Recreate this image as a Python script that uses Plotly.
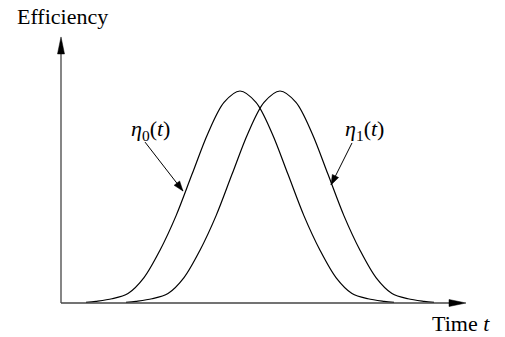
import math
import plotly.graph_objects as go

# curve samples (time units, efficiency 0..1 = peak)
t_eta0 = [2.5, 3.5, 5.1, 6.7, 8.3, 9.9, 11.5, 13.1, 14.7, 16.3, 17.9,
          19.5, 21.1, 22.7, 24.3, 25.9, 27.5, 29.1, 30.7, 32.3, 33.3]
eta0 = [0.003, 0.008, 0.02, 0.045, 0.12, 0.249, 0.411, 0.607, 0.801, 0.946, 1.0,
        0.946, 0.801, 0.607, 0.411, 0.249, 0.12, 0.045, 0.02, 0.008, 0.003]

t_eta1 = [6.5, 7.5, 9.1, 10.7, 12.3, 13.9, 15.5, 17.1, 18.7, 20.3, 21.9,
          23.5, 25.1, 26.7, 28.3, 29.9, 31.5, 33.1, 34.7, 36.3, 37.3]
eta1 = [0.003, 0.008, 0.02, 0.045, 0.12, 0.249, 0.411, 0.607, 0.801, 0.946, 1.0,
        0.946, 0.801, 0.607, 0.411, 0.249, 0.12, 0.045, 0.02, 0.008, 0.003]

# label arrows: (tail, tip) in data units
arrow_eta0 = ((8.4, 0.759), (12.2, 0.528))
arrow_eta1 = ((29.1, 0.755), (27.0, 0.557))

x_axis_end = 40.5
y_axis_end = 1.255

FONT = "Liberation Serif, Times New Roman, serif"
INK = "black"
AXIS = "#444"

# plot area geometry (page has an 8px body margin)
L, R, T, B = 43, 32, 19, 30
XR = [-1, 42]
YR = [-12 / 212, 276 / 212]
PX_X = (505 - L - R) / (XR[1] - XR[0])
PX_Y = (337 - T - B) / (YR[1] - YR[0])


def head(tail, tip, length=10, half=3.5):
    # triangle path in pixels around the tip (y up)
    dx = (tip[0] - tail[0]) * PX_X
    dy = (tip[1] - tail[1]) * PX_Y
    n = math.hypot(dx, dy)
    ux, uy = dx / n, dy / n
    bx, by = -ux * length, -uy * length
    px, py = -uy * half, ux * half
    path = f"M0,0 L{bx + px:.2f},{by + py:.2f} L{bx - px:.2f},{by - py:.2f} Z"
    return dict(type="path", xsizemode="pixel", ysizemode="pixel",
                xanchor=tip[0], yanchor=tip[1], path=path,
                fillcolor=INK, line=dict(color=INK, width=0.5))


fig = go.Figure()
for tt, ee in [(t_eta0, eta0), (t_eta1, eta1)]:
    fig.add_trace(go.Scatter(x=tt, y=ee, mode="lines",
                             line=dict(color=INK, width=1.2, shape="spline", smoothing=0.9),
                             hoverinfo="skip", showlegend=False))

shapes = [
    dict(type="line", x0=0, y0=0, x1=x_axis_end - 1.2, y1=0, line=dict(color=AXIS, width=1.3)),
    dict(type="line", x0=0, y0=0, x1=0, y1=y_axis_end - 0.06, line=dict(color=AXIS, width=1.3)),
    head((0, 0), (x_axis_end, 0), length=17),
    head((0, 0), (0, y_axis_end), length=17),
]
for tail, tip in [arrow_eta0, arrow_eta1]:
    shapes.append(dict(type="line", x0=tail[0], y0=tail[1], x1=tip[0], y1=tip[1],
                       line=dict(color=INK, width=1)))
    shapes.append(head(tail, tip))

annotations = [
    dict(x=0.1, y=1.036, xref="x", yref="paper", text="Efficiency",
         xanchor="center", yanchor="middle", showarrow=False, font=dict(size=22)),
    dict(x=40.0, y=-0.028, xref="x", yref="paper", text="Time <i>t</i>",
         xanchor="center", yanchor="middle", showarrow=False, font=dict(size=22)),
    dict(x=8.9, y=0.818, text="<i>η</i><sub>0</sub>(<i>t</i>)",
         xanchor="center", yanchor="middle", showarrow=False, font=dict(size=22)),
    dict(x=30.3, y=0.818, text="<i>η</i><sub>1</sub>(<i>t</i>)",
         xanchor="center", yanchor="middle", showarrow=False, font=dict(size=22)),
]

fig.update_layout(
    width=505, height=337,
    margin=dict(l=L, r=R, t=T, b=B),
    paper_bgcolor="white", plot_bgcolor="white",
    font=dict(family=FONT, color=INK),
    xaxis=dict(range=XR, visible=False, showgrid=False, zeroline=False),
    yaxis=dict(range=YR, visible=False, showgrid=False, zeroline=False),
    shapes=shapes,
    annotations=annotations,
)

fig.write_html("out.html")
